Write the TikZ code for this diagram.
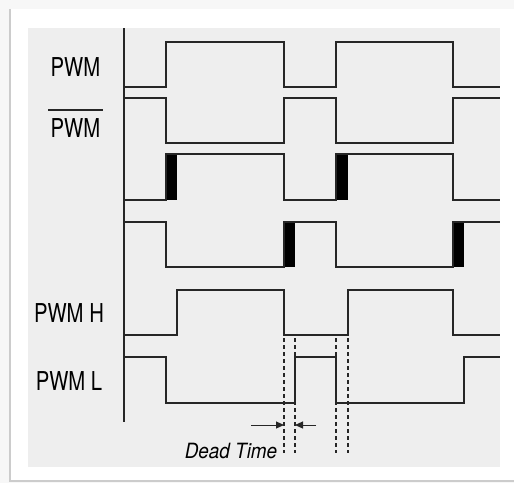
\documentclass[tikz,border=0pt]{standalone}
\usepackage{fontspec}
\setmainfont{TeX Gyre Heros}
\usetikzlibrary{arrows.meta}
\definecolor{panel}{HTML}{EEEEEE}
\definecolor{outer}{HTML}{F7F7F7}
\definecolor{wavec}{HTML}{262626}
\begin{document}
\begin{tikzpicture}[x=1pt,y=-1pt,
  wave/.style={draw=wavec,line width=1.5pt,line join=miter},
  barfill/.style={fill=black,draw=none},
  dead/.style={draw=wavec,line width=1.2pt,dash pattern=on 4pt off 3pt},
  dtarrow/.style={draw=wavec,line width=1pt,-{Triangle[length=8pt,width=7pt]}},
  lbl/.style={inner sep=0pt,font=\fontsize{26}{26}\selectfont},
  dtlbl/.style={inner sep=0pt,font=\fontsize{21}{21}\selectfont\itshape}]
\useasboundingbox (0,0) rectangle (514,483);
% frame
\fill[outer] (0,0) rectangle (514,483);
\fill[white] (10,9) rectangle (514,480);
\draw[line width=1.5pt,color=black!20] (10,9) -- (10,481) -- (514,481);
\fill[panel] (28,28) rectangle (500,467);
% axis
\draw[wave] (124,28) -- (124,422);
% PWM
\draw[wave] (124,87) -- (166,87) -- (166,42) -- (284,42) -- (284,87) -- (336,87) -- (336,42) -- (453,42) -- (453,87) -- (500,87);
% PWM bar
\draw[wave] (124,98) -- (166,98) -- (166,143) -- (284,143) -- (284,98) -- (336,98) -- (336,143) -- (453,143) -- (453,98) -- (500,98);
% row 3
\fill[barfill] (166,154) rectangle (177,200);
\fill[barfill] (336,154) rectangle (348,200);
\draw[wave] (124,200) -- (166,200) -- (166,154) -- (284,154) -- (284,200) -- (336,200) -- (336,154) -- (453,154) -- (453,200) -- (500,200);
% row 4
\fill[barfill] (284,222) rectangle (295,267);
\fill[barfill] (453,222) rectangle (464,267);
\draw[wave] (124,222) -- (166,222) -- (166,267) -- (284,267) -- (284,222) -- (336,222) -- (336,267) -- (453,267) -- (453,222) -- (500,222);
% PWM H
\draw[wave] (124,335) -- (177,335) -- (177,290) -- (284,290) -- (284,335) -- (348,335) -- (348,290) -- (453,290) -- (453,335) -- (500,335);
% PWM L
\draw[wave] (124,357) -- (166,357) -- (166,403) -- (295,403) -- (295,357) -- (336,357) -- (336,403) -- (464,403) -- (464,357) -- (500,357);
% dead time dashed lines
\coordinate (d1t) at (284,338); \coordinate (d1b) at (284,453);
\coordinate (d2t) at (295,338); \coordinate (d2b) at (295,453);
\coordinate (d3t) at (336,338); \coordinate (d3b) at (336,453);
\coordinate (d4t) at (348,338); \coordinate (d4b) at (348,453);
\draw[dead] (d1t) -- (d1b);
\draw[dead] (d2t) -- (d2b);
\draw[dead] (d3t) -- (d3b);
\draw[dead] (d4t) -- (d4b);
% arrows
\coordinate (a1s) at (251,425); \coordinate (a1e) at (284,425);
\coordinate (a2s) at (316,425); \coordinate (a2e) at (295,425);
\draw[dtarrow] (a1s) -- (a1e);
\draw[dtarrow] (a2s) -- (a2e);
% labels
\node[lbl] (lpwm) at (75.5,67) {\scalebox{0.78}[1]{PWM}};
\node[lbl] (lpwmb) at (75.5,128) {\scalebox{0.78}[1]{PWM}};
\coordinate (ob1) at (48,110); \coordinate (ob2) at (103,110);
\draw[draw=wavec,line width=1.4pt] (ob1) -- (ob2);
\node[lbl] (lpwmh) at (69,313) {\scalebox{0.78}[1]{PWM H}};
\node[lbl] (lpwml) at (69,381) {\scalebox{0.78}[1]{PWM L}};
\node[dtlbl] (ldt) at (231,451) {\scalebox{0.9}[1]{Dead Time}};
\end{tikzpicture}
\end{document}
